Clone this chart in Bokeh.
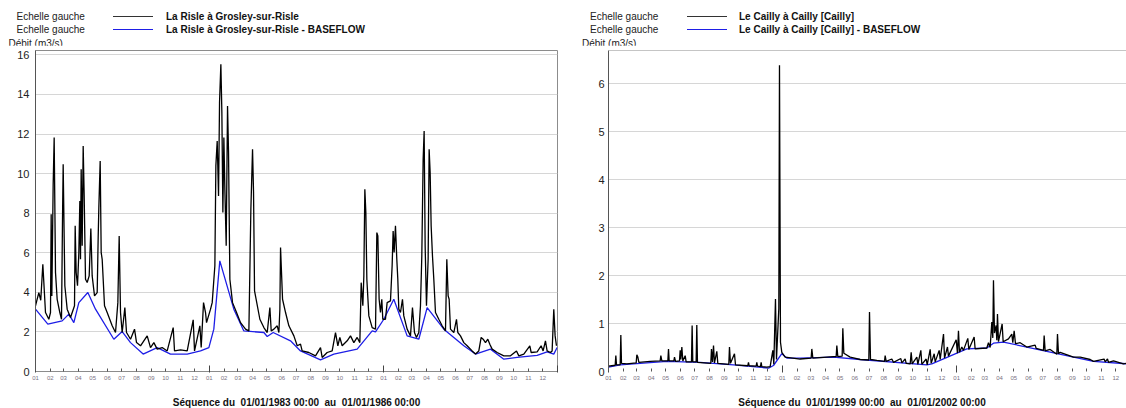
import pandas as pd
from bokeh.plotting import figure
from bokeh.layouts import row, column
from bokeh.models import (FixedTicker, CustomJSTickFormatter, Range1d, Span, Div)
from bokeh.embed import file_html
from bokeh.resources import INLINE

FONT = "Liberation Sans"
BLUE = "#1e1ee6"

# ---------------------------------------------------------------------------
# La Risle à Grosley-sur-Risle  (days counted from 01/01/1983, flow in m3/s)
risle_start = "1983-01-01"
risle_day = [0, 7, 11, 15.4, 21, 28, 31.5, 32.9, 34.3, 37.1, 39.2, 42, 45.5, 51.1,
             54.6, 56.7, 58.1, 61.6, 66.5, 73.5, 81.9, 83.3, 85.4, 88.2, 91, 93.1,
             94.5, 95.9, 98, 100.1, 102.2, 105, 108.5, 112.7, 116.2, 119, 123.9,
             129.5, 131.6, 133, 135.8, 137.9, 140, 144.9, 150.5, 161, 168, 172.9,
             175.7, 178.5, 182, 187.6, 191.1, 199.5, 207.9, 212.1, 220.5, 234.5,
             241.5, 248.5, 255.5, 266, 276.5, 289.1, 291.9, 304.5, 318.5, 331.1,
             333.9, 345.1, 347.9, 352.8, 357, 359.1, 367.5, 371, 376.6, 378.7,
             381.5, 384.3, 386.4, 389.2, 391.3, 393.4, 395.5, 397.6, 400.4, 403.2,
             405.3, 408.1, 413.7, 422.1, 430.5, 441, 448, 452.2, 455.7, 457.8,
             459.9, 471.1, 479.5, 486.5, 492.1, 494.9, 500.5, 507.5, 511, 513.1,
             514.5, 518.7, 525, 532, 542.5, 549.5, 556.4, 559.9, 573.9, 587.9,
             598.4, 601.9, 612.4, 622.9, 629.9, 634.8, 639, 643.9, 654.4, 661.4,
             668.4, 675.4, 681, 683.8, 687.3, 689.4, 691.5, 693.6, 695.7, 699.9,
             706.9, 713.9, 716.7, 718.8, 721.5, 724.3, 727.1, 729.2, 734.8, 738.3,
             745.3, 748.8, 750.9, 753, 755.8, 758.6, 760.7, 762.8, 766.3, 770.5,
             773.3, 780.3, 787.3, 791.5, 795.7, 799.9, 804.8, 808.3, 811.1, 813.9,
             816, 818.1, 820.9, 824.4, 826.5, 828.6, 830.7, 833.5, 836.3, 839.8,
             846.8, 853.8, 860.8, 863.6, 866.4, 868.5, 871.3, 878.3, 883.9, 886.7,
             892.3, 899.3, 906.3, 916.8, 923.8, 930.8, 935.7, 939.9, 944.8, 949.7,
             953.9, 958.8, 969.3, 983.3, 997.3, 1009.9, 1014.8, 1025.3, 1037.9,
             1040.7, 1053.3, 1061.6, 1065.8, 1070.7, 1074.2, 1081.2, 1084.7,
             1088.2, 1091, 1093.8]
risle_q = [3.32, 3.99, 3.6, 5.42, 2.98, 2.64, 2.98, 7.95, 3.82, 9.46, 11.82, 5.0,
           3.65, 2.98, 2.64, 7.69, 10.47, 4.33, 3.15, 2.73, 3.32, 7.36, 5.0, 4.33,
           6.0, 8.62, 5.67, 10.22, 6.35, 11.4, 8.87, 4.66, 4.5, 4.83, 7.22, 4.83,
           3.82, 3.99, 6.77, 8.28, 10.64, 6.01, 5.67, 3.32, 2.98, 2.31, 1.97, 3.48,
           6.85, 2.98, 1.97, 3.23, 1.97, 1.63, 2.14, 1.46, 1.30, 1.80, 1.21, 1.46,
           1.13, 1.21, 1.04, 2.22, 1.04, 1.09, 1.04, 2.61, 1.04, 2.31, 1.21, 3.48,
           2.98, 2.47, 3.15, 3.48, 5.34, 10.39, 11.65, 8.87, 13.59, 15.52, 13.08,
           8.03, 11.82, 9.21, 6.35, 13.42, 11.06, 4.66, 3.48, 2.98, 2.47, 2.14,
           2.05, 8.2, 11.23, 9.04, 4.07, 2.64, 2.22, 1.97, 3.23, 2.05, 2.14, 2.31,
           1.97, 3.15, 6.26, 3.65, 2.98, 2.31, 1.80, 1.30, 1.38, 1.04, 0.96, 0.79,
           1.21, 0.71, 0.96, 1.04, 1.97, 1.30, 1.72, 1.30, 1.55, 1.80, 1.46, 1.72,
           1.46, 4.49, 3.32, 4.83, 9.21, 8.03, 4.66, 2.81, 2.22, 2.14, 7.02, 6.85,
           3.65, 2.98, 3.65, 2.64, 2.64, 3.48, 3.57, 5.34, 7.10, 6.01, 7.36, 5.67,
           4.66, 3.15, 2.98, 3.65, 2.81, 2.14, 1.80, 3.23, 1.97, 1.72, 1.97, 3.32,
           5.84, 10.72, 12.15, 6.35, 3.32, 5.67, 11.23, 10.05, 7.36, 5.84, 4.66,
           2.98, 2.64, 2.31, 2.05, 5.67, 3.82, 3.65, 2.14, 1.97, 2.64, 1.97, 1.80,
           1.46, 1.30, 1.04, 0.88, 1.04, 1.72, 1.63, 1.46, 1.63, 1.38, 1.13, 0.96,
           0.79, 0.79, 1.04, 0.79, 0.88, 1.30, 0.96, 0.99, 1.30, 1.04, 1.55, 1.04,
           0.96, 1.04, 3.15, 1.80, 1.30]
risle_base_day = [0, 25.9, 56, 70, 80.5, 91, 109.9, 126, 164.5, 182, 199.5, 226,
                  255.5, 283.5, 318.5, 346.5, 364, 374.4, 387, 416.4, 437.4, 479.5,
                  486.5, 499, 535.4, 556.4, 598.4, 626.4, 675.4, 706.9, 713.9,
                  731.3, 752.3, 780.3, 804.8, 822.3, 857.3, 899.3, 923.8, 955.3,
                  983.3, 1011.3, 1053.3, 1074.2, 1088.2, 1095.2]
risle_base_q = [3.15, 2.39, 2.56, 2.90, 2.47, 3.48, 3.99, 3.15, 1.63, 2.02, 1.46,
                0.88, 1.21, 0.88, 0.88, 1.04, 1.21, 2.14, 5.59, 3.15, 2.05, 1.97,
                1.77, 1.97, 1.55, 1.04, 0.59, 0.88, 1.13, 2.05, 2.0, 2.64, 3.65,
                1.80, 1.63, 3.23, 2.14, 1.30, 0.88, 1.13, 0.62, 0.71, 0.82, 0.99,
                0.88, 1.21]

# ---------------------------------------------------------------------------
# Le Cailly à Cailly  (days counted from 01/01/1999, flow in m3/s)
cailly_start = "1999-01-01"
cailly_day = [0, 14, 15.4, 16.8, 24.5, 25.9, 27.3, 38.5, 58.1, 59.5, 61.6, 63.7,
              87.5, 108.5, 109.9, 112, 124.6, 126, 127.4, 137.2, 138.6, 140.7, 149,
              150.5, 151.9, 154, 156.1, 161, 163, 174.2, 175.6, 177, 184, 185.4,
              186.8, 214.8, 216.2, 218.3, 220.5, 222.5, 227.4, 229.5, 252.6, 254,
              256.1, 264.5, 266.6, 292.5, 293.9, 295.3, 310, 311.4, 312.8, 319.1,
              320.5, 321.9, 332.4, 339.4, 345, 347.1,
              350.6, 352.7, 357.6, 359, 361.1, 363.9, 370.9, 402.4, 425.5, 426.9,
              429, 472.4, 478, 479.4, 481.5, 490.6, 492, 494.1, 507.4, 528.4, 546.6,
              548, 550.1, 563.4, 579.5, 580.9, 583, 594.9, 598.4, 613.8, 615.9,
              622.9, 625, 633.4, 635.5, 637.6, 647.4, 649.5, 655.8, 657.9, 667,
              669.1, 675.4, 677.5, 683.8, 685.9, 694.3, 696.4, 703.4, 705.5, 711.7,
              713.8, 730, 732.7, 734.8, 736.9, 741.8, 745.3, 754.4, 756.5, 767.7,
              769.8, 794.3, 797.8, 801.3, 804.8, 806.9, 808.3, 810.4, 812.5, 813.9,
              815.3, 816.7, 818.8, 826.5, 828.6, 839.8, 846.8, 848.9, 851.7, 854.5,
              864.3, 878.3, 895.8, 898, 913.3, 914.7, 916.8, 927.3, 941.3, 942.7,
              944.8, 948.3, 976.3, 990.3, 1011.3, 1018.3, 1040.6, 1042.8, 1047.7,
              1049.9, 1060.3, 1081.2, 1088.2]
cailly_q = [0.11, 0.13, 0.33, 0.14, 0.14, 0.76, 0.17, 0.16, 0.18, 0.35, 0.30, 0.19,
            0.21, 0.22, 0.33, 0.22, 0.22, 0.47, 0.22, 0.22, 0.30, 0.21, 0.22, 0.44,
            0.25, 0.51, 0.22, 0.33, 0.20, 0.20, 0.96, 0.20, 0.20, 0.97, 0.19, 0.17,
            0.47, 0.20, 0.54, 0.18, 0.42, 0.17, 0.15, 0.51, 0.17, 0.37, 0.14,
            0.12, 0.19, 0.12, 0.11, 0.19, 0.11, 0.10, 0.19, 0.10,
            0.09, 0.10, 0.44, 0.15, 1.51, 0.25, 1.31, 6.38, 0.61, 0.40,
            0.30, 0.26, 0.28, 0.47, 0.28, 0.31, 0.31, 0.54, 0.31, 0.32, 0.90, 0.38,
            0.30, 0.25, 0.24, 1.24, 0.25, 0.23, 0.21, 0.33, 0.21, 0.26, 0.19, 0.27,
            0.18, 0.26, 0.17, 0.16, 0.40, 0.16, 0.30, 0.15, 0.44, 0.15, 0.26, 0.14,
            0.46, 0.17, 0.37, 0.20, 0.44, 0.25, 0.78, 0.28, 0.51, 0.32, 0.66, 0.38,
            0.85, 0.40, 0.51, 0.44, 0.69, 0.46, 0.72, 0.47, 0.49, 0.60, 0.50, 1.03,
            0.70, 1.90, 0.80, 0.90, 0.96, 0.65, 1.20, 0.62, 0.99, 0.62, 0.68, 0.78,
            0.60, 0.85, 0.58, 0.60, 0.51, 0.55, 0.48, 0.44, 0.75, 0.43, 0.46, 0.36,
            0.78, 0.37, 0.40, 0.30, 0.30, 0.25, 0.21, 0.26, 0.20, 0.26, 0.19, 0.22,
            0.16, 0.17]
cailly_base_day = [0, 24.5, 122.5, 192.4, 262.4, 335.9, 346.4, 363.9, 374.4, 402.4,
                   472.4, 528.4, 668.4, 678.9, 752.3, 794.3, 808.3, 829.3, 878.3,
                   1018.3, 1088.2]
cailly_base_q = [0.09, 0.14, 0.21, 0.19, 0.14, 0.07, 0.125, 0.37, 0.28, 0.28, 0.30,
                 0.25, 0.14, 0.16, 0.47, 0.49, 0.59, 0.61, 0.51, 0.21, 0.16]

month_labels = ["01", "02", "03", "04", "05", "06", "07", "08", "09", "10", "11", "12"]
risle_yticks = [0, 2, 4, 6, 8, 10, 12, 14, 16]
cailly_yticks = [0, 1, 2, 3, 4, 5, 6]

DAY_MS = 86400000
MS_PER_PX = 1096 * DAY_MS / 522      # three years over the frame width
HEADER_H = 45                         # legend strip above each chart
FOOTER_H = 17                         # period caption under each chart
FIG_H = 408 - HEADER_H - FOOTER_H
FRAME_TOP = 5                         # frame starts 50 px down the page
FRAME_BOTTOM = 20                     # month labels under the frame
TEXT_CSS = ("position:absolute;white-space:pre;line-height:1;"
            "font-family:'Liberation Sans',Arial,sans-serif;font-size:10px;")


def to_dates(start, days):
    return pd.Timestamp(start) + pd.to_timedelta(days, unit="D")


def ms(ts):
    return ts.value // 10**6


def strip(width, height, parts):
    html = (f'<div style="position:relative;width:{width}px;height:{height}px;'
            'margin:0;padding:0">' + "".join(parts) + "</div>")
    return Div(text=html, width=width, height=height,
               styles={"margin": "0", "padding": "0"})


def header(width, name, text_left, line_left, name_left, unit_left):
    parts = []
    for top, line_top, txt, col in [(12, 16, name, "#333333"),
                                    (25.3, 29, name + " - BASEFLOW", BLUE)]:
        parts.append(f'<div style="{TEXT_CSS}left:{text_left}px;top:{top}px;'
                     'color:#222">Echelle gauche</div>')
        parts.append(f'<svg style="position:absolute;left:{line_left}px;'
                     f'top:{line_top - 1}px" width="40" height="3">'
                     f'<line x1="0" y1="1.5" x2="40" y2="1.5" stroke="{col}" '
                     'stroke-width="1.2"/></svg>')
        parts.append(f'<div style="{TEXT_CSS}left:{name_left}px;top:{top}px;'
                     f'color:#111;font-weight:bold">{txt}</div>')
    parts.append(f'<div style="{TEXT_CSS}left:{unit_left}px;top:38.5px;'
                 'color:#222">Débit (m3/s)</div>')
    return strip(width, HEADER_H, parts)


def footer(width, center, text):
    part = (f'<div style="{TEXT_CSS}left:{center}px;top:7px;color:#111;'
            f'font-weight:bold;transform:translateX(-50%)">{text}</div>')
    return strip(width, FOOTER_H, [part])


def make_chart(start, days, q, bdays, bq, y_max, yticks,
               width, border_left, border_right, y_standoff, full_outline):
    t0 = pd.Timestamp(start)
    frame_w = width - border_left - border_right
    x0 = ms(t0)
    x1 = x0 + frame_w * MS_PER_PX

    p = figure(width=width, height=FIG_H, x_axis_type="datetime",
               x_range=Range1d(x0, x1), y_range=Range1d(0, y_max),
               output_backend="svg", toolbar_location=None,
               min_border_left=border_left, min_border_right=border_right,
               min_border_top=FRAME_TOP, min_border_bottom=FRAME_BOTTOM)
    p.background_fill_color = "white"
    p.border_fill_color = "white"

    p.line(to_dates(start, bdays), bq, line_color=BLUE, line_width=1.3)
    p.line(to_dates(start, days), q, line_color="black", line_width=1.3)

    # month ticks (labelled) and year boundaries (longer minor ticks)
    months = pd.date_range(t0, periods=36, freq="MS")
    years = pd.date_range(t0, periods=4, freq="YS")
    xa = p.xaxis[0]
    xa.ticker = FixedTicker(ticks=[ms(m) for m in months],
                            minor_ticks=[ms(y) for y in years])
    xa.formatter = CustomJSTickFormatter(
        args=dict(labels=month_labels),
        code="return labels[new Date(tick).getUTCMonth()];")
    xa.axis_line_color = None
    xa.major_tick_in = 3
    xa.major_tick_out = 0
    xa.major_tick_line_color = "#555555"
    xa.minor_tick_in = 6
    xa.minor_tick_out = 1
    xa.minor_tick_line_color = "#444444"
    xa.major_label_text_font = FONT
    xa.major_label_text_font_size = "6px"
    xa.major_label_text_color = "#7a7282"
    xa.major_label_text_align = "left"
    xa.major_label_standoff = 3

    ya = p.yaxis[0]
    ya.ticker = FixedTicker(ticks=yticks)
    ya.major_tick_in = 0
    ya.major_tick_out = 0
    ya.minor_tick_in = 0
    ya.minor_tick_out = 0
    ya.axis_line_color = "#555555"
    ya.major_label_text_font = FONT
    ya.major_label_text_font_size = "11px"
    ya.major_label_text_color = "#222222"
    ya.major_label_standoff = y_standoff

    p.xgrid.visible = False
    p.ygrid.ticker = FixedTicker(ticks=yticks)
    p.ygrid.grid_line_color = "#d6d6d6"

    if full_outline:
        p.outline_line_color = "#8c8c8c"
    else:
        p.outline_line_color = None
        p.add_layout(Span(location=y_max, dimension="width",
                          line_color="#8c8c8c", line_width=1))
    return p


p_left = make_chart(risle_start, risle_day, risle_q, risle_base_day, risle_base_q,
                    16.22, risle_yticks, width=580, border_left=35,
                    border_right=23, y_standoff=6, full_outline=True)
p_right = make_chart(cailly_start, cailly_day, cailly_q, cailly_base_day,
                     cailly_base_q, 6.6875, cailly_yticks, width=546,
                     border_left=28, border_right=0, y_standoff=4,
                     full_outline=False)

h_left = header(580, "La Risle à Grosley-sur-Risle", 16.5, 113, 166, 8.5)
h_right = header(546, "Le Cailly à Cailly [Cailly]", 10, 106.5, 159, 2)
f_left = footer(580, 296.5, "Séquence du  01/01/1983 00:00  au  01/01/1986 00:00")
f_right = footer(546, 282, "Séquence du  01/01/1999 00:00  au  01/01/2002 00:00")

layout = column(row(h_left, h_right), row(p_left, p_right), row(f_left, f_right))
open("out.html", "w").write(file_html(layout, INLINE))
